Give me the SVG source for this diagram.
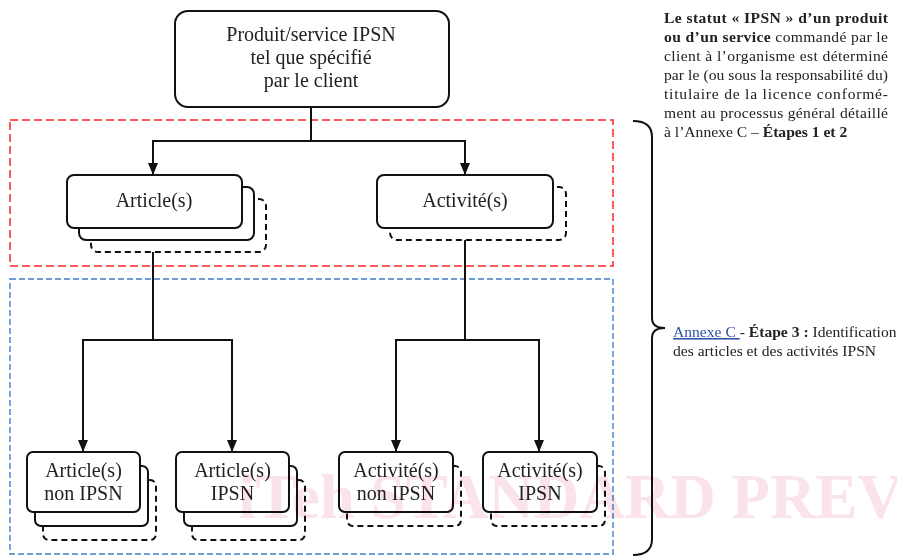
<svg xmlns="http://www.w3.org/2000/svg" width="897" height="556" viewBox="0 0 897 556">
<style>
.box{fill:#fff;stroke:#111;stroke-width:2}
.dbox{fill:#fff;stroke:#111;stroke-width:2;stroke-dasharray:6 4}
.t{font-family:"Liberation Serif","Times New Roman",serif;font-size:20px;fill:#222;text-anchor:middle}
.s{font-family:"Liberation Serif","Times New Roman",serif;font-size:15.6px;fill:#222}
.b{font-weight:bold}
.con{fill:none;stroke:#111;stroke-width:2}
.wm{font-family:"Liberation Serif","Times New Roman",serif;font-size:63px;font-weight:bold;fill:#fae3e9;mix-blend-mode:multiply}
</style>
<defs>
<marker id="ah" markerUnits="userSpaceOnUse" markerWidth="12" markerHeight="12" refX="12" refY="5" orient="auto">
<path d="M0,0 L12,5 L0,10 z" fill="#111"/>
</marker>
</defs>
<rect width="897" height="556" fill="#fff"/>

<g id="zone-etapes12">
<rect x="10" y="120" width="603" height="146" fill="none" stroke="#ff2424" stroke-width="1.5" stroke-dasharray="8 4"/>
</g>
<g id="zone-etape3">
<rect x="10" y="279" width="603" height="275" fill="none" stroke="#3f7fc6" stroke-width="1.4" stroke-dasharray="6 3"/>
</g>

<g id="connectors">
<path class="con" d="M311,107 V141 H153 V175" marker-end="url(#ah)"/>
<path class="con" d="M311,141 H465 V175" marker-end="url(#ah)"/>
<path class="con" d="M153,228 V340 H83 V452" marker-end="url(#ah)"/>
<path class="con" d="M153,340 H232 V452" marker-end="url(#ah)"/>
<path class="con" d="M465,228 V340 H396 V452" marker-end="url(#ah)"/>
<path class="con" d="M465,340 H539 V452" marker-end="url(#ah)"/>
</g>

<g id="produit">
<rect class="box" x="175" y="11" width="274" height="96" rx="13"/>
<text class="t" x="311" y="41">Produit/service IPSN</text>
<text class="t" x="311" y="64">tel que spécifié</text>
<text class="t" x="311" y="87">par le client</text>
</g>

<g id="articles">
<rect class="dbox" x="91" y="199" width="175" height="53" rx="7"/>
<rect class="box" x="79" y="187" width="175" height="53" rx="7"/>
<rect class="box" x="67" y="175" width="175" height="53" rx="7"/>
<text class="t" x="154" y="207">Article(s)</text>
</g>

<g id="activites">
<rect class="dbox" x="390" y="187" width="176" height="53" rx="7"/>
<rect class="box" x="377" y="175" width="176" height="53" rx="7"/>
<text class="t" x="465" y="207">Activité(s)</text>
</g>

<g id="articles-non-ipsn">
<rect class="dbox" x="43" y="480" width="113" height="60" rx="6"/>
<rect class="box" x="35" y="466" width="113" height="60" rx="6"/>
<rect class="box" x="27" y="452" width="113" height="60" rx="6"/>
<text class="t" x="83.5" y="477">Article(s)</text>
<text class="t" x="83.5" y="500">non IPSN</text>
</g>

<g id="articles-ipsn">
<rect class="dbox" x="192" y="480" width="113" height="60" rx="6"/>
<rect class="box" x="184" y="466" width="113" height="60" rx="6"/>
<rect class="box" x="176" y="452" width="113" height="60" rx="6"/>
<text class="t" x="232.5" y="477">Article(s)</text>
<text class="t" x="232.5" y="500">IPSN</text>
</g>

<g id="activites-non-ipsn">
<rect class="dbox" x="347" y="466" width="114" height="60" rx="6"/>
<rect class="box" x="339" y="452" width="114" height="60" rx="6"/>
<text class="t" x="396" y="477">Activité(s)</text>
<text class="t" x="396" y="500">non IPSN</text>
</g>

<g id="activites-ipsn">
<rect class="dbox" x="491" y="466" width="114" height="60" rx="6"/>
<rect class="box" x="483" y="452" width="114" height="60" rx="6"/>
<text class="t" x="540" y="477">Activité(s)</text>
<text class="t" x="540" y="500">IPSN</text>
</g>

<g id="accolade">
<path d="M633,121 Q652,121 652,137 L652,318 Q652,328 665,328 Q652,328 652,338 L652,539 Q652,555 633,555" fill="none" stroke="#111" stroke-width="2"/>
</g>

<g id="note-etapes12">
<text class="s" x="664" y="23" textLength="224" lengthAdjust="spacing"><tspan class="b">Le statut « IPSN » d’un produit</tspan></text>
<text class="s" x="664" y="42" textLength="224" lengthAdjust="spacing"><tspan class="b">ou d’un service</tspan> commandé par le</text>
<text class="s" x="664" y="61" textLength="224" lengthAdjust="spacing">client à l’organisme est déterminé</text>
<text class="s" x="664" y="80" textLength="224" lengthAdjust="spacing">par le (ou sous la responsabilité du)</text>
<text class="s" x="664" y="99" textLength="224" lengthAdjust="spacing">titulaire de la licence conformé-</text>
<text class="s" x="664" y="118" textLength="224" lengthAdjust="spacing">ment au processus général détaillé</text>
<text class="s" x="664" y="137">à l’Annexe C – <tspan class="b">Étapes 1 et 2</tspan></text>
</g>

<g id="note-etape3">
<text class="s" x="673" y="337"><tspan fill="#2f4fa8" text-decoration="underline">Annexe C </tspan>- <tspan class="b">Étape 3 :</tspan> Identification</text>
<text class="s" x="673" y="356">des articles et des activités IPSN</text>
</g>

<text class="wm" x="238" y="518">iTeh STANDARD PREVIEW</text>
</svg>
